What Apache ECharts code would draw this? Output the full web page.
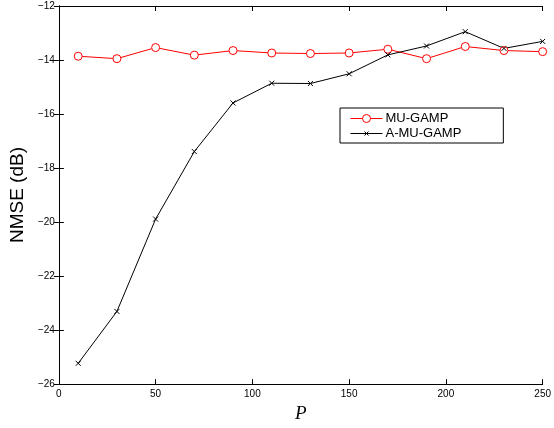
<!DOCTYPE html>
<html>
<head>
<meta charset="utf-8">
<script src="https://cdn.jsdelivr.net/npm/echarts@6/dist/echarts.min.js"></script>
<style>
  html, body { margin: 0; padding: 0; background: #fff; }
  #chart { width: 554px; height: 428px; }
</style>
</head>
<body>
<div id="chart"></div>
<script>
// P values and NMSE (dB)
const pValues = [10, 30, 50, 70, 90, 110, 130, 150, 170, 190, 210, 230, 250];
const muGamp = [-13.86, -13.95, -13.54, -13.82, -13.65, -13.74, -13.76, -13.74, -13.6, -13.95, -13.5, -13.65, -13.69];
const aMuGamp = [-25.23, -23.31, -19.89, -17.39, -15.59, -14.86, -14.87, -14.51, -13.81, -13.48, -12.95, -13.57, -13.31];
const xTicks = [0, 50, 100, 150, 200, 250];
const yTicks = [-26, -24, -22, -20, -18, -16, -14, -12];

const minus = v => (v < 0 ? '\u2212' + Math.abs(v) : String(v));
const labelFont = { color: '#000', fontSize: 10, fontFamily: 'Liberation Sans, Arial, sans-serif' };

const chart = echarts.init(document.getElementById('chart'));

const axisCommon = {
  type: 'value',
  axisLine: { show: true, lineStyle: { color: '#000', width: 1 } },
  axisTick: { show: true, inside: true, length: 5, lineStyle: { color: '#000' } },
  splitLine: { show: false }
};

chart.setOption({
  animation: false,
  backgroundColor: '#fff',
  grid: { left: 54, right: 8, top: 6, bottom: 35, containLabel: false },
  legend: {
    orient: 'vertical',
    left: 340,
    top: 108,
    width: 165,
    backgroundColor: '#fff',
    borderColor: '#000',
    borderWidth: 1,
    borderRadius: 0,
    padding: [4, 42, 3, 8],
    itemGap: 2,
    itemWidth: 32,
    itemHeight: 14,
    textStyle: { color: '#000', fontSize: 13, fontFamily: 'Liberation Sans, Arial, sans-serif', padding: [0, 0, 0, -2] },
    data: [
      { name: 'MU-GAMP', icon: 'path://M0,7L12,7M20,7A4,4,0,1,0,12,7A4,4,0,1,0,20,7M20,7L32,7', itemStyle: { color: 'none', borderColor: '#ff0000', borderWidth: 1 } },
      { name: 'A-MU-GAMP', icon: 'path://M0,7L32,7M14,5L18,9M18,5L14,9', itemStyle: { color: 'none', borderColor: '#000', borderWidth: 1 } }
    ]
  },
  xAxis: [
    Object.assign({}, axisCommon, {
      min: xTicks[0], max: xTicks[xTicks.length - 1], interval: 50,
      name: 'P',
      nameLocation: 'middle',
      nameGap: 18,
      nameTextStyle: { color: '#000', fontSize: 19, fontStyle: 'italic', fontFamily: 'Liberation Serif, Times New Roman, serif' },
      axisLabel: Object.assign({ margin: 5, formatter: minus }, labelFont)
    }),
    Object.assign({}, axisCommon, {
      position: 'top',
      min: xTicks[0], max: xTicks[xTicks.length - 1], interval: 50,
      axisLabel: { show: false }
    })
  ],
  yAxis: [
    Object.assign({}, axisCommon, {
      min: yTicks[0], max: yTicks[yTicks.length - 1], interval: 2,
      name: 'NMSE (dB)',
      nameLocation: 'middle',
      nameGap: 30,
      nameTextStyle: { color: '#000', fontSize: 19, fontFamily: 'Liberation Sans, Arial, sans-serif' },
      axisLabel: Object.assign({ margin: 4, formatter: minus }, labelFont)
    }),
    Object.assign({}, axisCommon, {
      position: 'right',
      min: yTicks[0], max: yTicks[yTicks.length - 1], interval: 2,
      axisLabel: { show: false }
    })
  ],
  series: [
    {
      name: 'MU-GAMP',
      type: 'line',
      data: pValues.map((p, i) => [p, muGamp[i]]),
      symbol: 'circle',
      symbolSize: 8,
      showAllSymbol: true,
      lineStyle: { color: '#ff0000', width: 1 },
      itemStyle: { color: '#fff', borderColor: '#ff0000', borderWidth: 1 }
    },
    {
      name: 'A-MU-GAMP',
      type: 'line',
      data: pValues.map((p, i) => [p, aMuGamp[i]]),
      symbol: 'path://M0,0L10,10M10,0L0,10',
      symbolSize: 5,
      showAllSymbol: true,
      lineStyle: { color: '#000', width: 1 },
      itemStyle: { color: 'none', borderColor: '#000', borderWidth: 1 }
    }
  ]
});
</script>
</body>
</html>
